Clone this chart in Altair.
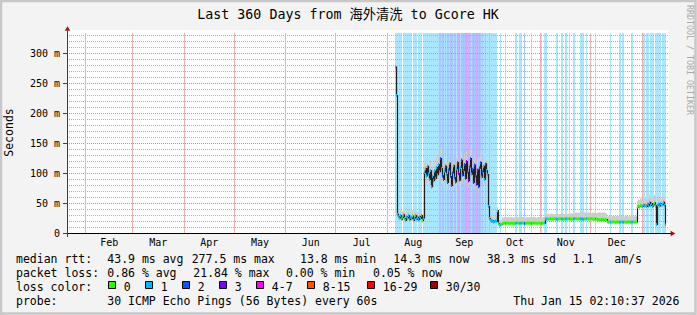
import altair as alt
import numpy as np
import pandas as pd

# ------------------------------------------------------------------ data
TITLE = "Last 360 Days from 海外清洗 to Gcore HK"
Y_TITLE = "Seconds"
WATERMARK = "RRDTOOL / TOBI OETIKER"
AXIS_START = "2025-01-20 16:30"     # left edge of the 360 day window
SPAN_DAYS = 360
DATA_START = "2025-08-05 11:42"     # first consolidated row holding data
STEP_HOURS = 14.4                   # consolidation step of the rows
Y_MAX = 1000 / 3                    # top of the value axis (ms)

# median round trip time per row (ms)
median_ms = [
    277.5, 230,
    32, 28, 26, 30, 24, 27, 31, 25, 22, 28, 26, 30, 23, 27, 25, 29, 22, 26, 30, 24, 27, 23, 28, 25, 30, 22, 26,
    102, 108, 96, 112, 99, 90, 105, 78, 95, 88, 104, 92, 110, 98, 115, 103, 125, 108, 96, 90,
    104, 112, 98, 85, 106, 117, 95, 80, 101, 113, 93, 86, 108, 118, 100, 89, 110, 122, 97, 105,
    115, 92, 120, 102, 88, 111, 125, 99, 107, 85, 114, 96, 82, 106, 78, 109, 118, 94, 103, 112,
    90, 116, 105, 98,
    45, 25, 22, 20, 21, 19, 20, 21, 20, 38, 16, 13.8, 14, 15,
    17.0, 17.2, 17.5, 17.1, 17.0, 17.4, 17.2, 16.9, 17.1, 17.5, 17.2, 17.0, 16.8, 17.1, 17.3,
    17.6, 17.2, 17.0, 17.1, 17.3, 17.5, 17.2, 17.0, 16.9, 17.1, 17.4, 17.2, 17.5, 17.1, 17.0,
    17.2, 17.3, 17.6, 17.2, 17.0, 17.1, 17.3, 17.5, 17.2, 17.0, 17.1, 17.3, 17.4,
    24.0, 24.3, 24.1, 23.8, 24.2, 24.5, 24.1, 23.9, 24.0, 24.4, 24.2, 24.0, 23.8, 24.1, 24.3,
    24.6, 24.2, 24.0, 23.9, 24.1, 24.4, 24.2, 24.0, 24.3, 24.5, 24.1, 23.9, 24.0, 24.2, 24.4,
    24.6, 24.3, 24.1, 24.0, 24.2, 24.5, 24.3, 24.1, 23.9, 24.0, 24.2, 24.4, 24.1, 24.0, 24.3,
    24.5, 24.2, 24.0, 23.8, 24.1, 24.3, 24.0,
    22.8, 23.0, 23.2, 22.9, 23.1, 23.3, 23.0, 22.8, 23.1, 23.0,
    19.0, 18.8, 19.1, 19.2, 18.9, 19.0, 19.3, 19.1, 18.8, 19.0, 19.2, 19.1, 18.9, 19.0, 19.3,
    19.2, 18.9, 19.0, 19.1, 18.8, 19.0, 19.2, 19.1, 18.9, 19.0, 19.3, 19.1, 18.9, 19.0, 19.2,
    44, 46, 45, 47, 46, 45, 48, 46, 47, 45, 49, 46, 52, 47, 50, 45, 48, 51, 46, 15,
    47, 49, 46, 50, 47, 48, 52, 47, 14.3,
]

# upper edge of the smoke (slowest pings) per row (ms)
smoke_hi_ms = [
    281, 238,
    42, 38, 36, 40, 35, 37, 41, 36, 33, 38, 36, 40, 34, 37, 35, 39, 33, 36, 40, 34, 37, 33, 38, 35, 40, 32, 36,
    118, 125, 112, 128, 116, 108, 122, 96, 112, 105, 121, 110, 128, 116, 132, 120, 140, 125, 113, 108,
    121, 130, 115, 103, 124, 134, 112, 98, 118, 131, 110, 104, 126, 136, 117, 107, 128, 138, 114, 122,
    133, 110, 137, 119, 106, 129, 140, 116, 124, 103, 131, 113, 100, 124, 96, 127, 135, 112, 121, 130,
    108, 133, 122, 115,
    55, 34, 30, 28, 29, 27, 28, 29, 28, 44, 24, 22, 22, 23,
    26.5, 27, 27.5, 27, 26.5, 27.5, 27, 26.5, 27, 27.5, 27, 26.5, 26.5, 27, 27.5,
    28, 27, 26.5, 27, 27.5, 27.5, 27, 26.5, 26.5, 27, 27.5, 27, 27.5, 27, 26.5,
    27, 27.5, 28, 27, 26.5, 27, 27.5, 27.5, 27, 26.5, 27, 27.5, 27.5,
    32, 32.5, 33, 32.5, 32, 33, 33.5, 33, 32.5, 32, 33, 33.5, 33, 32.5, 32,
    33, 33.5, 34, 33, 32.5, 33, 33.5, 33, 32.5, 33, 33.5, 34, 33.5, 33, 34,
    34.5, 35, 34.5, 34, 35, 35.5, 35, 34.5, 35, 35.5, 35, 34.5, 35, 35.5, 35,
    34.5, 34, 34.5, 35, 34.5, 34, 33.5,
    34, 35, 35.5, 35, 34.5, 35, 35.5, 35, 34, 33.5,
    28.5, 29, 29.5, 29, 28.5, 29, 29.5, 29, 28.5, 29, 29.5, 29, 28.5, 29, 29.5,
    30, 29, 28.5, 29, 29.5, 29, 28.5, 29, 29.5, 29, 28.5, 29, 29.5, 29, 28.5,
    54, 57, 56, 59, 57, 55, 61, 58, 60, 56, 63, 58, 65, 59, 62, 56, 60, 64, 58, 48,
    59, 62, 57, 63, 58, 60, 65, 59, 48,
]

# lower edge of the smoke (fastest pings) per row (ms)
smoke_lo_ms = [
    272, 224,
    25, 22, 20, 23, 18, 21, 24, 19, 17, 22, 20, 23, 17, 21, 19, 22, 17, 20, 23, 18, 21, 17, 22, 19, 23, 17, 20,
    90, 95, 84, 98, 87, 78, 92, 68, 83, 76, 91, 80, 97, 86, 102, 90, 110, 95, 84, 78,
    91, 99, 86, 74, 93, 103, 83, 70, 88, 100, 81, 75, 95, 104, 88, 78, 97, 108, 85, 92,
    102, 80, 106, 89, 77, 98, 110, 87, 94, 74, 100, 84, 71, 93, 68, 96, 104, 82, 90, 99,
    79, 102, 92, 86,
    38, 21, 18, 17, 18, 16, 17, 18, 17, 30, 14, 12, 12, 13,
    15.5, 15.7, 16, 15.6, 15.5, 15.9, 15.7, 15.4, 15.6, 16, 15.7, 15.5, 15.3, 15.6, 15.8,
    16.1, 15.7, 15.5, 15.6, 15.8, 16, 15.7, 15.5, 15.4, 15.6, 15.9, 15.7, 16, 15.6, 15.5,
    15.7, 15.8, 16.1, 15.7, 15.5, 15.6, 15.8, 16, 15.7, 15.5, 15.6, 15.8, 15.9,
    22.2, 22.5, 22.3, 22, 22.4, 22.7, 22.3, 22.1, 22.2, 22.6, 22.4, 22.2, 22, 22.3, 22.5,
    22.8, 22.4, 22.2, 22.1, 22.3, 22.6, 22.4, 22.2, 22.5, 22.7, 22.3, 22.1, 22.2, 22.4, 22.6,
    22.8, 22.5, 22.3, 22.2, 22.4, 22.7, 22.5, 22.3, 22.1, 22.2, 22.4, 22.6, 22.3, 22.2, 22.5,
    22.7, 22.4, 22.2, 22, 22.3, 22.5, 22.2,
    21, 21.2, 21.4, 21.1, 21.3, 21.5, 21.2, 21, 21.3, 21.2,
    17.2, 17, 17.3, 17.4, 17.1, 17.2, 17.5, 17.3, 17, 17.2, 17.4, 17.3, 17.1, 17.2, 17.5,
    17.4, 17.1, 17.2, 17.3, 17, 17.2, 17.4, 17.3, 17.1, 17.2, 17.5, 17.3, 17.1, 17.2, 17.4,
    40, 42, 41, 43, 42, 41, 44, 42, 43, 41, 45, 42, 47, 43, 46, 41, 44, 47, 42, 13,
    43, 45, 42, 46, 43, 44, 47, 43, 13,
]

# packet loss class per row, run-length encoded as (rows, class)
loss_runs = [
    (7, 1), (1, 0), (9, 1), (1, 0), (4, 1), (1, 0), (4, 1), (1, 0), (16, 1),
    (1, 1), (1, 2), (1, 1), (2, 2), (1, 1), (1, 2), (1, 1), (2, 2), (1, 1), (3, 2),
    (1, 1), (2, 2), (1, 1), (1, 2), (2, 3), (1, 1), (4, 2), (2, 3), (1, 2), (1, 3),
    (2, 2), (1, 1), (1, 2), (1, 3), (2, 2), (2, 3), (1, 2), (1, 3), (1, 2), (1, 1),
    (1, 2), (2, 1), (1, 2), (2, 1),
    (9, 1), (3, 0), (1, 1), (4, 0), (1, 1), (9, 0), (2, 1), (2, 0), (3, 1), (2, 0),
    (1, 2), (6, 0), (1, 1), (9, 0), (1, 1), (2, 0), (3, 1), (9, 0), (2, 1), (3, 0),
    (2, 1), (2, 0), (2, 1), (2, 0), (1, 1), (3, 0), (2, 1), (5, 0), (4, 1), (2, 0),
    (1, 1), (8, 0), (1, 1), (14, 0), (1, 1), (8, 0), (2, 1), (1, 0), (2, 1), (7, 0),
    (2, 1), (9, 0), (3, 1), (1, 0), (3, 1), (1, 0), (4, 1), (1, 0), (6, 1), (1, 0),
    (4, 1),
]

month_names = ["Feb", "Mar", "Apr", "May", "Jun", "Jul", "Aug", "Sep", "Oct", "Nov", "Dec"]
month_starts = ["2025-02-01", "2025-03-01", "2025-04-01", "2025-05-01", "2025-06-01",
                "2025-07-01", "2025-08-01", "2025-09-01", "2025-10-01", "2025-11-01",
                "2025-12-01", "2026-01-01"]
y_major = [0, 50, 100, 150, 200, 250, 300]
y_labels = ["0", "50 m", "100 m", "150 m", "200 m", "250 m", "300 m"]
y_minor = [v for v in range(10, 340, 10) if v % 50]

rtt_items = ["median rtt:", "43.9 ms avg", "277.5 ms max", "13.8 ms min",
             "14.3 ms now", "38.3 ms sd", "1.1", "am/s"]
loss_items = ["packet loss:", "0.86 % avg", "21.84 % max", "0.00 % min", "0.05 % now"]
loss_color_title = "loss color:"
loss_labels = ["0", "1", "2", "3", "4-7", "8-15", "16-29", "30/30"]
loss_colors = ["#26ff00", "#00b8ff", "#0059ff", "#7e00ff",
               "#ff00ff", "#ff5500", "#ff0000", "#a10000"]
probe_items = ["probe:", "30 ICMP Echo Pings (56 Bytes) every 60s", "Thu Jan 15 02:10:37 2026"]

# ---------------------------------------------------------------- layout
W, H = 600, 200
OX, OY = 67, 33                    # plot origin inside the 697x315 canvas
GRID_W = 602                       # grid reaches slightly past the last column
FONT = "DejaVu Sans Mono"
TITLE_FONT = "'DejaVu Sans Mono', 'Noto Sans CJK SC'"
rtt_x = [16, 107.3, 191.7, 300, 393.3, 486.7, 572.7, 614.3]
loss_x = [16, 107.3, 193.3, 286, 373]
probe_x = [16, 107.3, 513.3]
row_base = [262.7, 276.7, 290.7, 304.7]
box_left = [108.5, 145.5, 182.5, 219.5, 256.5, 307.5, 367.5, 430.5]


def ms(ts):
    return pd.Timestamp(ts).value / 1e6


x0 = pd.Timestamp(AXIS_START)
x1 = x0 + pd.Timedelta(days=SPAN_DAYS)
X0, X1 = ms(x0), ms(x1)
MS_PER_PX = (X1 - X0) / W
xscale = alt.Scale(domain=[X0, X1], nice=False, zero=False)
# half-pixel shifted range so that 1px horizontal lines land on pixel rows
yscale = alt.Scale(domain=[0, Y_MAX], range=[H + 0.5, 0.5], nice=False, zero=False)


def snap(t):
    # put a 1px grid line in the middle of the pixel column it falls in
    return X0 + (np.floor((t - X0) / MS_PER_PX) + 0.5) * MS_PER_PX


n = min(len(median_ms), len(smoke_hi_ms), len(smoke_lo_ms))
step_ms = STEP_HOURS * 3600 * 1000
start_ms = ms(DATA_START) + step_ms * np.arange(n)

loss = []
for length, cls in loss_runs:
    loss += [cls] * length
loss = (loss + [0] * n)[:n]

df = pd.DataFrame({
    "t0": start_ms,
    "t1": start_ms + step_ms,
    "tc": start_ms + step_ms / 2,
    "med": median_ms[:n],
    "hi": smoke_hi_ms[:n],
    "lo": smoke_lo_ms[:n],
    "color": [loss_colors[c] for c in loss],
})

bars = []
i = 0
while i < n:
    j = i
    while j + 1 < n and loss[j + 1] == loss[i]:
        j += 1
    if loss[i] > 0:
        bars.append({"b0": start_ms[i], "b1": start_ms[j] + step_ms, "color": loss_colors[loss[i]]})
    i = j + 1
bars_df = pd.DataFrame(bars)


def hgrid(values):
    rows = []
    for v in values:
        rows.append({"v": v, "gx": X0})
        rows.append({"v": v, "gx": X0 + GRID_W * MS_PER_PX})
    return pd.DataFrame(rows)


one = pd.DataFrame({"a": [0]})
month_ms = [ms(m) for m in month_starts]
month_df = pd.DataFrame({"m": [snap(t) for t in month_ms]})
mlab = pd.DataFrame({"name": month_names,
                     "mid": [(month_ms[k] + month_ms[k + 1]) / 2 for k in range(len(month_names))]})
ytick_df = pd.DataFrame({"v": y_major, "label": y_labels})

texts = []
for s, x in zip(rtt_items, rtt_x):
    texts.append({"text": s, "x": x - OX, "y": row_base[0] - OY})
for s, x in zip(loss_items, loss_x):
    texts.append({"text": s, "x": x - OX, "y": row_base[1] - OY})
texts.append({"text": loss_color_title, "x": 16 - OX, "y": row_base[2] - OY})
for s, bl in zip(loss_labels, box_left):
    texts.append({"text": s, "x": bl + 15.3 - OX, "y": row_base[2] - OY})
for s, x in zip(probe_items, probe_x):
    texts.append({"text": s, "x": x - OX, "y": row_base[3] - OY})
texts_df = pd.DataFrame(texts)

boxes_df = pd.DataFrame({
    "x": [b - OX for b in box_left],
    "x2": [b + 7 - OX for b in box_left],
    "y": [281.5 - OY] * len(box_left),
    "y2": [288.5 - OY] * len(box_left),
    "color": loss_colors,
})

# ---------------------------------------------------------------- layers
frame = alt.Chart(one).mark_rect(fillOpacity=0, stroke="#c8c8c8", strokeWidth=2.5).encode(
    x=alt.value(-66), x2=alt.value(628.5), y=alt.value(-32), y2=alt.value(280.5))
canvas = alt.Chart(one).mark_rect(color="white").encode(
    x=alt.value(0), x2=alt.value(GRID_W), y=alt.value(-3), y2=alt.value(H))

loss_bg = alt.Chart(bars_df).mark_rect(opacity=0.34).encode(
    x=alt.X("b0:Q", scale=xscale, axis=None), x2="b1:Q",
    y=alt.value(0), y2=alt.value(H),
    color=alt.Color("color:N", scale=None))

minor_grid = alt.Chart(hgrid(y_minor)).mark_line(
    color="#b0b0b0", strokeWidth=1, strokeDash=[1, 1]).encode(
    x=alt.X("gx:Q", scale=xscale, axis=None),
    y=alt.Y("v:Q", scale=yscale, axis=None),
    detail="v:N")
major_grid = alt.Chart(hgrid(y_major[1:])).mark_line(
    color="#e08888", strokeWidth=1, strokeDash=[1, 1]).encode(
    x=alt.X("gx:Q", scale=xscale, axis=None),
    y=alt.Y("v:Q", scale=yscale, axis=None),
    detail="v:N")
month_grid = alt.Chart(month_df).mark_rule(
    color="#eeb0b0", strokeWidth=1).encode(
    x=alt.X("m:Q", scale=xscale, axis=None))

smoke = alt.Chart(df).mark_area(interpolate="step", color="#cdcdcd").encode(
    x=alt.X("tc:Q", scale=xscale, axis=None),
    y=alt.Y("hi:Q", scale=yscale, axis=None), y2="lo:Q")

median_line = alt.Chart(df).mark_line(interpolate="step-after", color="#202020",
                                      strokeWidth=1.2).encode(
    x=alt.X("tc:Q", scale=xscale, axis=None),
    y=alt.Y("med:Q", scale=yscale, axis=None))

loss_line = alt.Chart(df).mark_rule(strokeWidth=3).encode(
    x=alt.X("t0:Q", scale=xscale, axis=None), x2="t1:Q",
    y=alt.Y("med:Q", scale=yscale, axis=None),
    color=alt.Color("color:N", scale=None))

x_axis_line = alt.Chart(one).mark_rule(color="#000000", strokeWidth=1).encode(
    x=alt.value(-4), x2=alt.value(604), y=alt.value(H + 0.5))
y_axis_line = alt.Chart(one).mark_rule(color="#404040", strokeWidth=1).encode(
    x=alt.value(0.5), y=alt.value(H + 4), y2=alt.value(-2))
x_arrow = alt.Chart(one).mark_point(shape="triangle-right", filled=True, size=30,
                                    color="#a01010", opacity=1).encode(
    x=alt.value(606), y=alt.value(H + 0.5))
y_arrow = alt.Chart(one).mark_point(shape="triangle-up", filled=True, size=30,
                                    color="#a01010", opacity=1).encode(
    x=alt.value(0.5), y=alt.value(-4.5))

y_ticks = alt.Chart(ytick_df).mark_rule(color="#404040").encode(
    y=alt.Y("v:Q", scale=yscale, axis=None), x=alt.value(-4), x2=alt.value(0))
y_tick_labels = alt.Chart(ytick_df).mark_text(font=FONT, fontSize=10, align="right",
                                              baseline="middle", color="#000000").encode(
    y=alt.Y("v:Q", scale=yscale, axis=None), x=alt.value(-7), text="label:N")

month_labels = alt.Chart(mlab).mark_text(font=FONT, fontSize=10, align="center",
                                         baseline="alphabetic", color="#000000").encode(
    x=alt.X("mid:Q", scale=xscale, axis=None), y=alt.value(246 - OY), text="name:N")

legend_text = alt.Chart(texts_df).mark_text(font=FONT, fontSize=11.5, align="left",
                                            baseline="alphabetic", color="#000000").encode(
    x=alt.X("x:Q", scale=None), y=alt.Y("y:Q", scale=None), text="text:N")

legend_boxes = alt.Chart(boxes_df).mark_rect(stroke="#000000", strokeWidth=1).encode(
    x=alt.X("x:Q", scale=None), x2="x2:Q", y=alt.Y("y:Q", scale=None), y2="y2:Q",
    color=alt.Color("color:N", scale=None))

title = alt.Chart(one).mark_text(font=TITLE_FONT, fontSize=13.3, align="center",
                                 baseline="alphabetic", color="#000000").encode(
    x=alt.value(348 - OX), y=alt.value(18.7 - OY), text=alt.value(TITLE))
y_title = alt.Chart(one).mark_text(font=FONT, fontSize=11.5, align="center", angle=270,
                                   baseline="middle", color="#000000").encode(
    x=alt.value(10 - OX), y=alt.value(132.5 - OY), text=alt.value(Y_TITLE))
watermark = alt.Chart(one).mark_text(font=FONT, fontSize=8.3, align="center", angle=90,
                                     baseline="middle", color="#a8a8a8").encode(
    x=alt.value(688.5 - OX), y=alt.value(60 - OY), text=alt.value(WATERMARK))

chart = alt.layer(
    frame, canvas, loss_bg, minor_grid, major_grid, month_grid,
    smoke, median_line, loss_line,
    x_axis_line, y_axis_line, x_arrow, y_arrow, y_ticks, y_tick_labels,
    month_labels, legend_text, legend_boxes, title, y_title, watermark,
).properties(
    width=W, height=H,
    padding={"left": OX, "top": OY, "right": 697 - OX - W, "bottom": 315 - OY - H},
    autosize=alt.AutoSizeParams(type="none"),
    background="#f3f3f3",
).configure_view(fill="white", stroke=None)

chart.save("out.html", embed_options={"renderer": "svg", "actions": False})
